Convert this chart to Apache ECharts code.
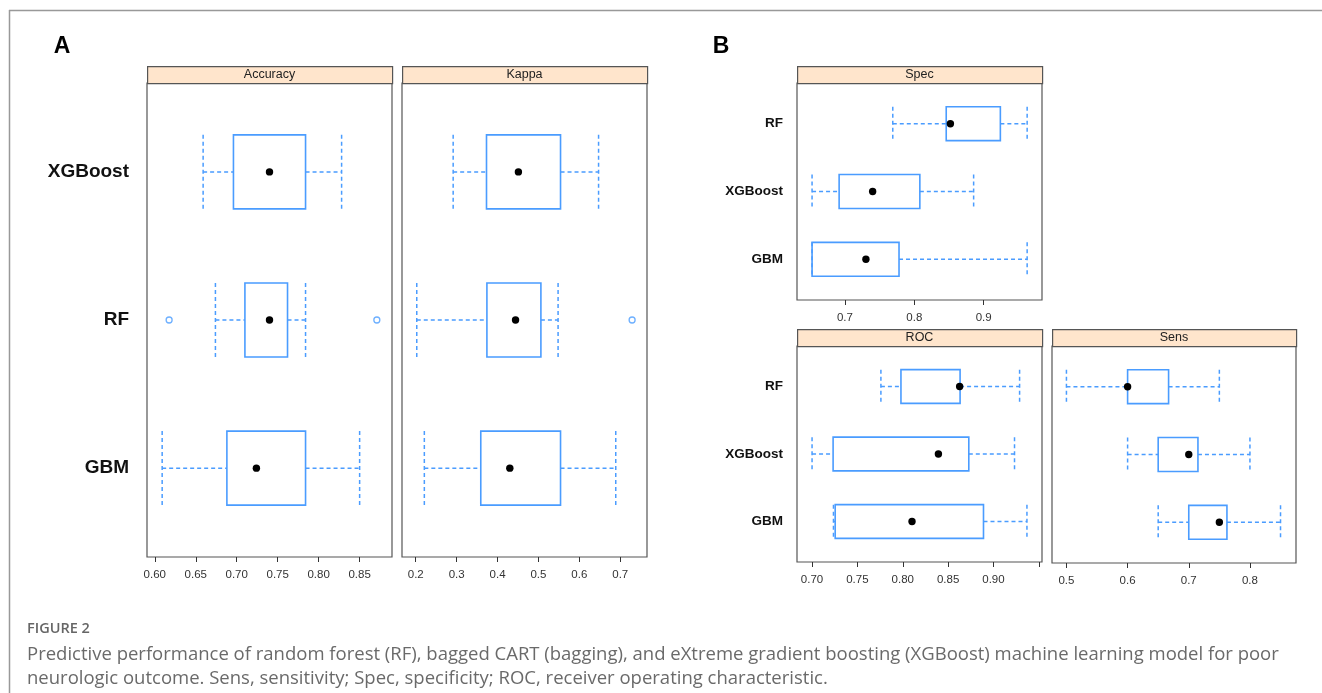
<!DOCTYPE html>
<html>
<head>
<meta charset="utf-8">
<script src="https://cdn.jsdelivr.net/npm/echarts@6/dist/echarts.min.js"></script>
<style>
html,body{margin:0;padding:0;background:#fff;}
#main{width:1322px;height:693px;}
</style>
</head>
<body>
<div id="main"></div>
<script>
// ---- Data: [lower whisker, Q1, median, Q3, upper whisker] ----
const modelsA = ['GBM', 'RF', 'XGBoost'];          // y = 1,2,3 (bottom to top), panel A
const modelsB = ['GBM', 'XGBoost', 'RF'];          // y = 1,2,3 (bottom to top), panel B

const accGBM = [0.609, 0.688, 0.724, 0.784, 0.850];
const accRF  = [0.674, 0.710, 0.740, 0.762, 0.784];
const accXGB = [0.659, 0.696, 0.740, 0.784, 0.828];
const accRFOutliers = [0.6175, 0.871];

const kappaGBM = [0.221, 0.359, 0.430, 0.554, 0.689];
const kappaRF  = [0.2025, 0.374, 0.444, 0.506, 0.548];
const kappaXGB = [0.2915, 0.373, 0.451, 0.554, 0.647];
const kappaRFOutliers = [0.729];

const specGBM = [0.6527, 0.6527, 0.7303, 0.778, 0.9626];
const specXGB = [0.6527, 0.6917, 0.740, 0.808, 0.8855];
const specRF  = [0.769, 0.846, 0.852, 0.924, 0.9626];

const rocGBM = [0.7236, 0.7255, 0.8102, 0.889, 0.9369];
const rocXGB = [0.700, 0.7232, 0.8393, 0.8728, 0.9232];
const rocRF  = [0.7759, 0.798, 0.8627, 0.8632, 0.9288];

const sensGBM = [0.65, 0.70, 0.75, 0.7624, 0.85];
const sensXGB = [0.60, 0.65, 0.70, 0.715, 0.80];
const sensRF  = [0.50, 0.60, 0.60, 0.667, 0.75];

const accTicks   = [0.60, 0.65, 0.70, 0.75, 0.80, 0.85];
const kappaTicks = [0.2, 0.3, 0.4, 0.5, 0.6, 0.7];
const specTicks  = [0.7, 0.8, 0.9];
const rocTicks   = [0.70, 0.75, 0.80, 0.85, 0.90, 0.95];
const rocLabels  = [0.70, 0.75, 0.80, 0.85, 0.90];
const sensTicks  = [0.5, 0.6, 0.7, 0.8];

const panelTitles = ['Accuracy', 'Kappa', 'Spec', 'ROC', 'Sens'];

const captionHead = 'FIGURE 2';
const captionLine1 = 'Predictive performance of random forest (RF), bagged CART (bagging), and eXtreme gradient boosting (XGBoost) machine learning model for poor';
const captionLine2 = 'neurologic outcome. Sens, sensitivity; Spec, specificity; ROC, receiver operating characteristic.';

// ---- Layout ----
const BLUE = '#4a9cff';
const FRAME = '#555';
const FONT = 'Liberation Sans, Arial, sans-serif';
const panels = [
  {left: 147, top: 83,  width: 245, height: 474, min: 0.5905, max: 0.8895, ticks: accTicks,   labels: accTicks,   dec: 2, ylabels: modelsA, yfont: 19, ymargin: 18},
  {left: 402, top: 83,  width: 245, height: 474, min: 0.1664, max: 0.7654, ticks: kappaTicks, labels: kappaTicks, dec: 1, ylabels: null},
  {left: 797, top: 83,  width: 245, height: 217, min: 0.631,  max: 0.984,  ticks: specTicks,  labels: specTicks,  dec: 1, ylabels: modelsB, yfont: 13.5, ymargin: 14},
  {left: 797, top: 346, width: 245, height: 216, min: 0.6834, max: 0.9535, ticks: rocTicks,   labels: rocLabels,  dec: 2, ylabels: modelsB, yfont: 13.5, ymargin: 14},
  {left: 1052,top: 346, width: 244, height: 217, min: 0.4764, max: 0.8753, ticks: sensTicks,  labels: sensTicks,  dec: 1, ylabels: null}
];
const headerH = 17;

const boxData = [
  [[1].concat(accGBM), [2].concat(accRF), [3].concat(accXGB)],
  [[1].concat(kappaGBM), [2].concat(kappaRF), [3].concat(kappaXGB)],
  [[1].concat(specGBM), [2].concat(specXGB), [3].concat(specRF)],
  [[1].concat(rocGBM), [2].concat(rocXGB), [3].concat(rocRF)],
  [[1].concat(sensGBM), [2].concat(sensXGB), [3].concat(sensRF)]
];
const outlierData = [
  accRFOutliers.map(v => [v, 2]),
  kappaRFOutliers.map(v => [v, 2]),
  [], [], []
];

function renderBox(params, api) {
  const y = api.value(0);
  const lo = api.value(1), q1 = api.value(2), med = api.value(3), q3 = api.value(4), hi = api.value(5);
  const pLo = api.coord([lo, y]), pQ1 = api.coord([q1, y]), pMed = api.coord([med, y]);
  const pQ3 = api.coord([q3, y]), pHi = api.coord([hi, y]);
  const h = api.size([0, 0.5])[1];
  const dashStyle = {stroke: BLUE, lineWidth: 1.5, lineDash: [4, 3], fill: null};
  const cy = pLo[1];
  return {
    type: 'group',
    children: [
      {type: 'line', shape: {x1: pLo[0], y1: cy, x2: pQ1[0], y2: cy}, style: dashStyle},
      {type: 'line', shape: {x1: pQ3[0], y1: cy, x2: pHi[0], y2: cy}, style: dashStyle},
      {type: 'line', shape: {x1: pLo[0], y1: cy - h / 2, x2: pLo[0], y2: cy + h / 2}, style: dashStyle},
      {type: 'line', shape: {x1: pHi[0], y1: cy - h / 2, x2: pHi[0], y2: cy + h / 2}, style: dashStyle},
      {type: 'rect', shape: {x: pQ1[0], y: cy - h / 2, width: pQ3[0] - pQ1[0], height: h},
        style: {stroke: BLUE, lineWidth: 1.6, fill: 'rgba(255,255,255,0)'}},
      {type: 'circle', shape: {cx: pMed[0], cy: cy, r: 3.7}, style: {fill: '#000'}}
    ]
  };
}

const grids = [], xAxes = [], yAxes = [], series = [], graphics = [];
panels.forEach((p, i) => {
  grids.push({left: p.left, top: p.top, width: p.width, height: p.height,
    show: true, borderColor: FRAME, borderWidth: 1.2, backgroundColor: '#fff', containLabel: false});
  xAxes.push({
    type: 'value', gridIndex: i, min: p.min, max: p.max,
    axisLine: {show: false}, splitLine: {show: false},
    axisTick: {show: true, inside: false, length: 5, lineStyle: {color: '#333', width: 1}, customValues: p.ticks},
    axisLabel: {show: true, margin: 12, color: '#333', fontSize: 11.5, fontFamily: FONT,
      customValues: p.labels, formatter: v => Number(v).toFixed(p.dec)}
  });
  yAxes.push({
    type: 'value', gridIndex: i, min: 0.4, max: 3.6,
    axisLine: {show: false}, splitLine: {show: false}, axisTick: {show: false},
    axisLabel: p.ylabels ? {
      show: true, customValues: [1, 2, 3], margin: p.ymargin,
      fontWeight: 'bold', fontSize: p.yfont, color: '#111', fontFamily: FONT,
      formatter: v => p.ylabels[Math.round(v) - 1]
    } : {show: false}
  });
  series.push({
    type: 'custom', xAxisIndex: i, yAxisIndex: i, renderItem: renderBox,
    encode: {x: [1, 2, 3, 4, 5], y: 0}, data: boxData[i], silent: true, z: 3
  });
  if (outlierData[i].length) {
    series.push({
      type: 'scatter', xAxisIndex: i, yAxisIndex: i, data: outlierData[i],
      symbol: 'circle', symbolSize: 6, silent: true, z: 4,
      itemStyle: {color: '#fff', borderColor: BLUE, borderWidth: 1.3}
    });
  }
  // strip header
  graphics.push({
    type: 'rect', left: p.left, top: p.top - headerH,
    shape: {x: 0, y: 0, width: p.width, height: headerH},
    style: {fill: '#ffe5cc', stroke: FRAME, lineWidth: 1.2}, z: 10
  });
  graphics.push({
    type: 'text', x: p.left + p.width / 2, y: p.top - headerH / 2 + 0.5,
    style: {text: panelTitles[i], fill: '#222', fontSize: 12.5, fontFamily: FONT,
      textAlign: 'center', textVerticalAlign: 'middle'}, z: 11
  });
});

// Panel letters
graphics.push({type: 'text', x: 62, y: 47, style: {text: 'A', fill: '#000', fontSize: 23, fontWeight: 'bold',
  fontFamily: FONT, textAlign: 'center', textVerticalAlign: 'middle'}});
graphics.push({type: 'text', x: 721, y: 47, style: {text: 'B', fill: '#000', fontSize: 23, fontWeight: 'bold',
  fontFamily: FONT, textAlign: 'center', textVerticalAlign: 'middle'}});

// Figure border lines
graphics.push({type: 'line', shape: {x1: 9, y1: 10.5, x2: 1322, y2: 10.5}, style: {stroke: '#999', lineWidth: 1.5}});
graphics.push({type: 'line', shape: {x1: 9.5, y1: 10, x2: 9.5, y2: 693}, style: {stroke: '#999', lineWidth: 1.5}});

// Caption
graphics.push({type: 'text', x: 27, y: 629, style: {text: captionHead, fill: '#666', fontSize: 14.5, fontWeight: 600,
  fontFamily: 'Open Sans, sans-serif', textVerticalAlign: 'middle'}});
graphics.push({type: 'text', x: 27, y: 655, style: {text: captionLine1, fill: '#6a6a6a', fontSize: 18.5,
  fontFamily: 'Open Sans, sans-serif', textVerticalAlign: 'middle'}});
graphics.push({type: 'text', x: 27, y: 679, style: {text: captionLine2, fill: '#6a6a6a', fontSize: 18.5,
  fontFamily: 'Open Sans, sans-serif', textVerticalAlign: 'middle'}});

const chart = echarts.init(document.getElementById('main'), null, {renderer: 'canvas'});
chart.setOption({
  animation: false,
  backgroundColor: '#fff',
  grid: grids,
  xAxis: xAxes,
  yAxis: yAxes,
  series: series,
  graphic: {elements: graphics}
});
</script>
</body>
</html>
